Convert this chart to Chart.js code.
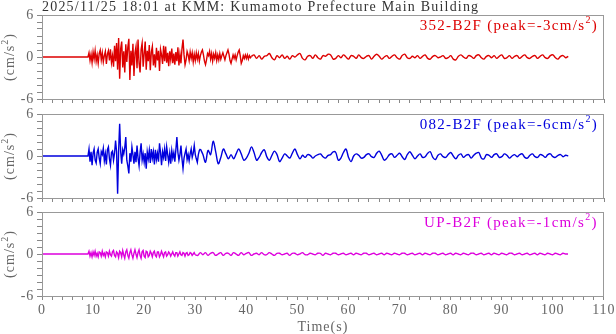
<!DOCTYPE html>
<html><head><meta charset="utf-8">
<script src="https://cdn.jsdelivr.net/npm/chart.js@4.4.1/dist/chart.umd.min.js"></script>
<style>
html,body{margin:0;padding:0;background:#fff;}
#wrap{position:relative;width:616px;height:334px;overflow:hidden;background:#fff;}
canvas{position:absolute;left:0;top:0;}
</style></head><body>
<div id="wrap">
<canvas id="c1" width="616" height="334"></canvas>
<canvas id="c2" width="616" height="334"></canvas>
<canvas id="c3" width="616" height="334"></canvas>
</div>
<script>
// ---------- data ----------
const titleText = "2025/11/25 18:01 at KMM: Kumamoto Prefecture Main Building";
const xAxisTitle = "Time(s)";
const xLabelEvery = 10;            // x tick labels 0,10,...,110
const yLabeledTicks = [-6, 0, 6];  // y tick labels
const seriesNames = ["352-B2F", "082-B2F", "UP-B2F"];
const seriesPeaks = [-3, -6, -1];
const onsetTime = 9.0;     // s, first sample of the dense part
const denseStep = 0.2;     // s
const tailStep = 0.5;      // s

const ns352Dense = [
 0,0.6,-0.5,0.4,-0.8, 0.7,-0.3,0.9,-0.6,0.3, -0.9,0.5,1.0,-0.4,0.6, -0.7,0.2,0.8,-1.0,0.4,
 0.9,-0.5,1.1,-0.8,0.2, -1.4,1.6,-0.6,2.0,-1.8, 2.7,-3.1,1.2,2.2,-1.5, 0.8,-2.2,1.8,-0.7,1.4,
 2.6,-3.3,0.9,-1.2,1.9, -2.7,0.6,1.5,-1.6,2.5, -0.9,-2.2,1.1,2.0,-1.4, 0.5,2.2,-1.8,0.9,-0.6,
 1.7,-1.9,0.7,1.5,-1.2, 0.4,-1.5,1.3,-0.5,0.9, -2.0,1.1,0.3,-1.0,1.6, -0.6,1.5,-0.8,0.6,-1.3,
 0.8,-0.4,1.2,-0.9,0.5, -1.1,0.7,-0.6,1.4,-1.2, 0.4,-0.9,1.2,2.5,0.3, -1.1,-0.4,0.8,0.3,-0.5,
 0.7,-0.2,0.6,-0.7,0.4, -0.5,0.6,-0.3,0.5,-0.6, 0.2,0.7,1.0,0.3,-0.6, -1.1,-0.4,0.5,0.2,0.8,
 -0.3,0.5,-0.6,0.4,-0.2, 0.6,-0.5,0.3,-0.4,0.5, -0.3,0.2,0.6,0.1,-0.4, 0.2,0.6,1.0,0.4,-0.5,
 -0.9,-0.3,0.3,-0.2,0.3, -0.4,0.2,0.7,1.0,0.2, -0.9,-0.5,0.2,-0.2,0.3, -0.2,0.3,-0.3,0.2,-0.1,
 0.1];
const ns352Tail = [
 0.3,-0.2,0.2,-0.3,0.1,0.2,0.5,-0.1,-0.4,0.2,
 -0.1,0.3,-0.2,0.1,-0.3,0.2,0.0,0.3,0.5,-0.2,
 -0.4,0.1,0.2,-0.2,0.3,-0.1,-0.3,0.2,0.1,0.4,
 0.3,-0.3,-0.2,0.2,-0.1,0.3,0.0,-0.3,0.2,0.1,
 -0.2,0.3,-0.1,-0.2,0.1,0.2,-0.3,0.1,0.4,0.1,
 -0.3,0.0,0.2,-0.2,0.1,0.3,-0.1,-0.3,0.2,0.4,
 -0.1,-0.2,0.1,-0.1,0.2,-0.2,0.1,0.3,-0.2,-0.3,
 0.1,0.2,-0.1,0.0,0.2,-0.2,-0.1,0.2,-0.3,-0.4,
 0.1,0.3,0.0,-0.2,0.2,0.1,-0.2,0.2,0.3,-0.1,
 -0.3,0.1,0.2,-0.1,0.2,-0.2,0.1,0.3,-0.2,-0.1,
 0.2,-0.2,0.1,0.2,-0.2,0.1,0.3,-0.1,-0.2,0.1,
 0.2,-0.2,0.1,0.3,-0.1,-0.2,0.2,0.3,-0.1,-0.3,
 0.1,0.2,-0.1,0.1];

const ew082Dense = [
 0,1.0,-0.8,0.6,-1.3, 0.4,1.0,-0.6,-1.0,0.5, 1.0,-0.3,-1.1,0.6,0.2, 1.1,-0.7,0.3,-1.2,0.9,
 1.3,-0.4,-1.3,0.5,0.7, -0.6,0.4,2.2,0.6,-5.4, 0.8,4.6,0.6,-1.1,0.9, 0.3,1.2,2.7,-0.6,-1.4,
 -2.5,0.4,-0.8,1.3,0.2, -1.1,0.6,-0.9,1.5,-0.3, -1.4,0.5,1.8,-0.6,0.3, -0.9,0.4,-1.8,0.6,-0.4,
 0.8,-1.0,1.0,-0.3,0.6, -1.2,0.9,-0.5,0.4,-0.8, 1.8,0.5,-1.3,0.6,-0.2, 1.0,-0.7,1.3,0.2,-0.9,
 0.4,-1.1,0.8,-0.3,0.5, -0.8,0.9,2.7,0.5,-0.6, 0.2,1.5,-0.4,-1.8,-0.3, 0.4,1.0,-0.5,0.2,-0.7,
 0.3,1.0,-0.2,0.4,1.5, 0.2,-0.4,-0.9,0.2,0.8, 1.0];
const ew082Tail = [
 0.2,-0.9,0.8,0.2,2.1,0.6,-1.1,-0.2,1.0,0.3,
 -0.4,0.2,-0.4,0.3,1.0,0.3,-0.6,-0.3,0.4,1.3,
 0.5,-0.6,-0.2,0.5,0.9,-0.1,-0.6,0.1,0.7,0.2,
 -0.8,-0.3,0.3,0.0,-0.3,0.4,1.0,0.2,-0.4,0.1,
 -0.2,0.2,0.1,-0.3,0.0,0.2,0.3,-0.1,-0.3,0.1,
 0.2,0.6,0.5,-0.6,-0.3,0.5,1.0,-0.2,-0.8,0.0,
 0.3,0.1,-0.3,-0.2,0.2,0.3,-0.1,-0.2,0.4,0.7,
 0.1,-0.6,-0.3,0.2,0.3,-0.2,0.1,0.4,-0.1,-0.5,
 0.2,0.6,0.1,-0.4,0.0,0.3,-0.2,-0.1,0.4,0.6,
 -0.2,-0.5,0.1,0.3,-0.1,-0.2,0.2,0.5,0.0,-0.4,
 0.1,0.3,-0.2,0.1,0.2,-0.3,0.1,0.4,0.5,-0.3,
 -0.4,0.2,0.1,-0.2,0.2,0.3,-0.2,-0.1,0.3,0.1,
 -0.3,0.0,0.2,-0.1,0.2,0.3,-0.2,-0.3,0.1,0.3,
 -0.1,-0.2,0.2,0.1,-0.2,0.2,0.3,-0.1,-0.2,0.1,
 0.2,-0.1,0.1,0.0];

const upDense = [
 0,0.4,-0.3,0.2,-0.4, 0.3,-0.2,0.4,-0.3,0.1, -0.4,0.3,0.2,-0.3,0.4, -0.2,0.1,-0.4,0.3,0.2,
 -0.3,0.4,-0.1,-0.3,0.3, 0.5,-0.2,-0.4,0.3,0.1, -0.5,0.4,0.2,-0.4,0.5, -0.1,-0.6,0.3,0.6,-0.2,
 -0.6,0.2,0.6,-0.1,-0.6, 0.1,0.6,0.0,-0.5,0.2, 0.6,-0.2,-0.6,0.3,0.5, -0.3,-0.5,0.4,0.3,-0.4,
 -0.2,0.4,0.1,-0.4,0.2, 0.4,-0.2,-0.4,0.3,0.3, -0.4,-0.1,0.4,0.0,-0.4, 0.2,0.3,-0.3,-0.1,0.3,
 0.1,-0.3,0.0,0.3,-0.1, -0.3,0.2,0.2,-0.3,0.0, 0.3,-0.1,-0.2,0.2,0.1, -0.3,0.1,0.2,-0.2,-0.1,
 0.2,0.1,-0.2,0.0,0.2, -0.1];
const upTail = [
 -0.2,0.2,-0.1,0.2,-0.2,0.1,0.2,-0.2,0.0,0.2,
 -0.2,0.1,0.1,-0.2,0.2,0.0,-0.2,0.2,-0.1,0.1,
 0.2,-0.2,0.0,0.1,-0.1,0.2,-0.1,-0.1,0.2,0.0,
 -0.2,0.1,0.1,-0.1,0.0,0.1,-0.2,0.1,0.1,-0.1,
 0.0,0.2,-0.1,-0.1,0.1,0.0,-0.1,0.1,0.1,-0.2,
 0.1,0.0,-0.1,0.1,0.1,-0.1,0.0,0.1,-0.1,0.0,
 0.1,-0.1,0.1,0.0,-0.1,0.1,0.1,-0.1,0.0,0.1,
 -0.1,0.0,0.1,-0.1,0.1,0.0,-0.1,0.1,0.0,-0.1,
 0.1,0.1,-0.1,0.0,0.1,-0.1,0.0,0.1,-0.1,0.1,
 0.0,-0.1,0.1,0.1,-0.1,0.0,0.1,-0.1,0.0,0.1,
 -0.1,0.1,0.0,-0.1,0.1,0.0,-0.1,0.1,0.1,-0.1,
 0.0,0.1,-0.1,0.0,0.1,-0.1,0.1,0.0,-0.1,0.1,
 0.0,-0.1,0.1,0.1,-0.1,0.0,0.1,-0.1,0.0,0.1,
 -0.1,0.0,0.1,-0.1,0.1,0.0,-0.1,0.1,0.0,-0.1,
 0.1,0.0,-0.1,0.1,0.0,0.0];

// ---------- rendering ----------
const FONT = '"Liberation Serif","Times New Roman",serif';
const colors = ['#dd0000', '#0000dd', '#dd00dd'];
const panelTop = [15, 114, 212];
const panelBottom = [99, 198, 296];
const PLOT_LEFT = 42, PLOT_RIGHT = 604, W = 616, H = 334, XAXIS_H = 22;

function buildSeries(dense, tail) {
  const head = [{x: 0, y: 0}];
  dense.forEach((v, i) => head.push({x: +(onsetTime + i * denseStep).toFixed(3), y: v}));
  const last = head[head.length - 1];
  const t0 = onsetTime + (dense.length - 1) * denseStep + tailStep;
  const rest = [{x: last.x, y: last.y}];
  tail.forEach((v, i) => rest.push({x: +(t0 + i * tailStep).toFixed(3), y: v}));
  return {head, rest};
}
const seriesData = [buildSeries(ns352Dense, ns352Tail), buildSeries(ew082Dense, ew082Tail), buildSeries(upDense, upTail)];

function drawSup(ctx, x, y, main, sup, tail, size, color, align, spacing) {
  ctx.letterSpacing = (spacing || 0) + 'px';
  const big = size + 'px ' + FONT, small = Math.round(size * 0.68) + 'px ' + FONT;
  ctx.font = big; const w1 = ctx.measureText(main).width, w3 = ctx.measureText(tail).width;
  ctx.font = small; const w2 = ctx.measureText(sup).width;
  const total = w1 + w2 + w3;
  let sx = align === 'right' ? x - total : align === 'center' ? x - total / 2 : x;
  ctx.fillStyle = color; ctx.textAlign = 'left'; ctx.textBaseline = 'alphabetic';
  ctx.font = big; ctx.fillText(main, sx, y);
  ctx.font = small; ctx.fillText(sup, sx + w1, y - size * 0.42);
  ctx.font = big; ctx.fillText(tail, sx + w1 + w2, y);
}

const spacingPlugin = {
  id: 'spacing',
  beforeDraw(chart) { chart.ctx.letterSpacing = '0.8px'; }
};

function makeChart(idx) {
  const showX = idx === 2;
  const textPlugin = {
    id: 'panelText' + idx,
    afterDraw(chart) {
      const ctx = chart.ctx, a = chart.chartArea;
      ctx.save();
      ctx.strokeStyle = '#999'; ctx.lineWidth = 1;
      ctx.strokeRect(Math.round(a.left) + 0.5, Math.round(a.top) + 0.5, Math.round(a.right - a.left) - 1, Math.round(a.bottom - a.top));
      // series label
      drawSup(ctx, a.right - 6, a.top + 14.5, seriesNames[idx] + ' (peak=' + seriesPeaks[idx] + 'cm/s', '2', ')', 15, colors[idx], 'right', 1.3);
      // y title
      ctx.translate(13.5, (a.top + a.bottom) / 2);
      ctx.rotate(-Math.PI / 2);
      drawSup(ctx, 0, 0, '(cm/s', '2', ')', 14, '#666', 'center', 1);
      ctx.restore();
      ctx.save();
      if (idx === 0) {
        ctx.letterSpacing = '1.2px';
        ctx.font = '14px ' + FONT; ctx.fillStyle = '#333'; ctx.textAlign = 'left'; ctx.textBaseline = 'alphabetic';
        ctx.fillText(titleText, 42, 11);
      }
      if (showX) {
        ctx.letterSpacing = '1px';
        ctx.font = '14px ' + FONT; ctx.fillStyle = '#666'; ctx.textAlign = 'center'; ctx.textBaseline = 'alphabetic';
        ctx.fillText(xAxisTitle, (a.left + a.right) / 2, 331);
      }
      ctx.restore();
    }
  };
  return new Chart(document.getElementById('c' + (idx + 1)), {
    type: 'line',
    data: {datasets: [
      {data: seriesData[idx].head, borderColor: colors[idx], borderWidth: 1.4, pointRadius: 0, tension: 0, fill: false},
      {data: seriesData[idx].rest, borderColor: colors[idx], borderWidth: 1.4, pointRadius: 0, tension: 0.35, fill: false}
    ]},
    options: {
      responsive: false, animation: false, parsing: false, normalized: true,
      layout: {padding: {top: panelTop[idx], left: 0, right: W - PLOT_RIGHT, bottom: H - panelBottom[idx] - XAXIS_H}},
      plugins: {legend: {display: false}, tooltip: {enabled: false}, title: {display: false}},
      scales: {
        x: {
          type: 'linear', min: 0, max: 110,
          afterFit(s) { s.height = XAXIS_H; },
          border: {display: false},
          grid: {drawOnChartArea: false, drawTicks: true, tickLength: 4, color: '#888'},
          ticks: {stepSize: 2, autoSkip: false, maxRotation: 0, padding: 2, color: '#666', font: {family: FONT, size: 14},
            callback: v => (showX && v % xLabelEvery === 0) ? String(v) : ''}
        },
        y: {
          min: -6, max: 6,
          afterFit(s) { s.width = PLOT_LEFT; },
          border: {display: false},
          grid: {drawOnChartArea: false, drawTicks: true, tickLength: 5, color: '#888'},
          ticks: {stepSize: 1, autoSkip: false, padding: 3, color: '#666', font: {family: FONT, size: 14},
            callback: v => yLabeledTicks.includes(v) ? String(v) : ''}
        }
      }
    },
    plugins: [spacingPlugin, textPlugin]
  });
}
[0, 1, 2].forEach(makeChart);
</script>
</body></html>
